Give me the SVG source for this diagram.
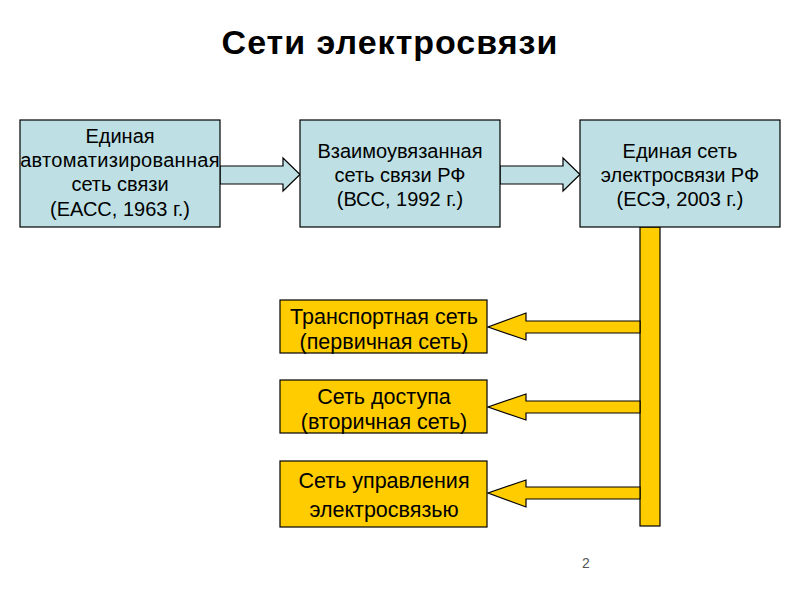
<svg xmlns="http://www.w3.org/2000/svg" width="800" height="600" viewBox="0 0 800 600">
<style>
.t{font-family:"Liberation Sans",Arial,sans-serif;fill:#000;text-anchor:middle}
.title{font-size:34px;font-weight:bold;letter-spacing:1px}
.bt{font-size:20px}
.yt{font-size:21.5px}
.blue{fill:#BEE0E4;stroke:#000;stroke-width:1.2}
.gold{fill:#FFCC00;stroke:#000;stroke-width:1.2}
.pn{font-size:14px;fill:#555}
</style>
<rect width="800" height="600" fill="#fff"/>
<text class="t title" x="390" y="54">Сети электросвязи</text>
<g id="connectors">
<path class="blue" d="M220,166 H283 V158 L300,174.5 L283,191 V184 H220 Z"/>
<path class="blue" d="M500,166 H563 V158 L580,174.5 L563,191 V184 H500 Z"/>
<rect class="gold" x="640" y="227" width="20" height="299"/>
<path class="gold" d="M640,321 H526 V313 L488,327 L526,340 V333 H640 Z"/>
<path class="gold" d="M640,401 H526 V394 L488,407 L526,420 V413 H640 Z"/>
<path class="gold" d="M640,487 H526 V480 L488,493 L526,507 V499 H640 Z"/>
</g>
<g id="eass">
<rect class="blue" x="20" y="120" width="200" height="107"/>
<text class="t bt" x="120" y="143">Единая</text>
<text class="t bt" x="120" y="167" letter-spacing="0.3">автоматизированная</text>
<text class="t bt" x="120" y="191">сеть связи</text>
<text class="t bt" x="120" y="216">(ЕАСС, 1963 г.)</text>
</g>
<g id="vss">
<rect class="blue" x="300" y="120" width="200" height="107"/>
<text class="t bt" x="400" y="158">Взаимоувязанная</text>
<text class="t bt" x="400" y="182">сеть связи РФ</text>
<text class="t bt" x="400" y="206">(ВСС, 1992 г.)</text>
</g>
<g id="ese">
<rect class="blue" x="580" y="120" width="200" height="107"/>
<text class="t bt" x="680" y="158">Единая сеть</text>
<text class="t bt" x="680" y="182">электросвязи РФ</text>
<text class="t bt" x="680" y="206">(ЕСЭ, 2003 г.)</text>
</g>
<g id="transport">
<rect class="gold" x="280" y="300" width="207" height="53"/>
<text class="t yt" x="384" y="324">Транспортная сеть</text>
<text class="t yt" x="384" y="349">(первичная сеть)</text>
</g>
<g id="access">
<rect class="gold" x="280" y="380" width="207" height="53"/>
<text class="t yt" x="384" y="404">Сеть доступа</text>
<text class="t yt" x="384" y="429">(вторичная сеть)</text>
</g>
<g id="control">
<rect class="gold" x="280" y="461" width="207" height="66"/>
<text class="t yt" x="384" y="488">Сеть управления</text>
<text class="t yt" x="384" y="517">электросвязью</text>
</g>
<text class="t pn" x="586" y="568">2</text>
</svg>
